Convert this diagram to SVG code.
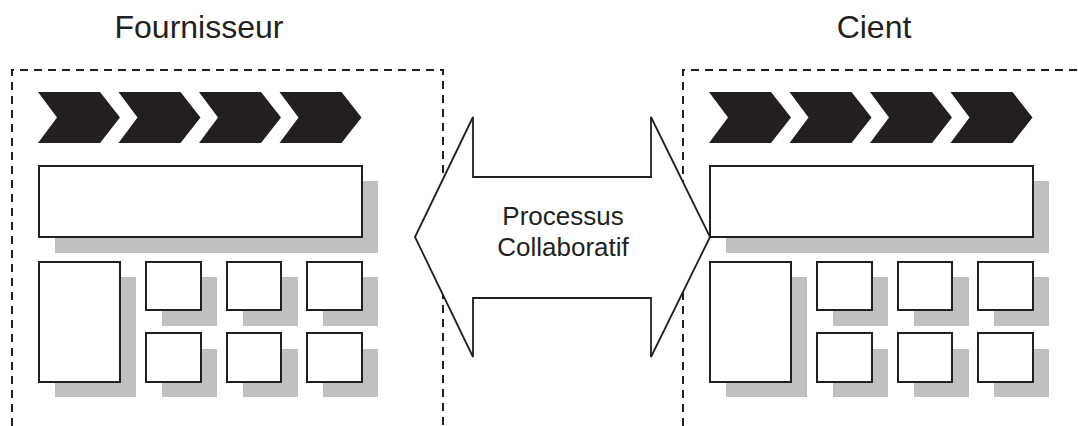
<svg xmlns="http://www.w3.org/2000/svg" width="1078" height="426" viewBox="0 0 1078 426">
<defs>
<style>
.dash{fill:none;stroke:#231f20;stroke-width:2;stroke-dasharray:8 6}
.chev{fill:#231f20}
.box{fill:#fff;stroke:#231f20;stroke-width:2}
.shadow{fill:#c0c0c0}
.title{font-family:"Liberation Sans",Arial,sans-serif;font-size:32px;fill:#231f20;text-anchor:middle}
.lbl{font-family:"Liberation Sans",Arial,sans-serif;font-size:26px;fill:#231f20;text-anchor:middle}
.arrow{fill:#fff;stroke:#231f20;stroke-width:1.8;stroke-linejoin:miter}
</style>
<polygon id="chevron" points="0,92 62,92 82,117.5 62,143 0,143 19,117.5"/>
<g id="panel">
<use href="#chevron" class="chev" x="38"/>
<use href="#chevron" class="chev" x="118.5"/>
<use href="#chevron" class="chev" x="199"/>
<use href="#chevron" class="chev" x="279.5"/>
<rect class="shadow" x="55" y="181" width="323" height="72"/>
<rect class="box" x="39" y="166" width="323" height="71"/>
<rect class="shadow" x="55" y="277" width="81" height="120"/>
<rect class="box" x="39" y="262" width="81" height="120"/>
<rect class="shadow" x="162" y="277" width="55" height="49"/>
<rect class="box" x="146" y="262" width="55" height="48"/>
<rect class="shadow" x="243" y="277" width="55" height="49"/>
<rect class="box" x="227" y="262" width="54" height="48"/>
<rect class="shadow" x="323" y="277" width="55" height="49"/>
<rect class="box" x="307" y="262" width="55" height="48"/>
<rect class="shadow" x="162" y="349" width="55" height="48"/>
<rect class="box" x="146" y="333" width="55" height="49"/>
<rect class="shadow" x="243" y="349" width="55" height="48"/>
<rect class="box" x="227" y="333" width="54" height="49"/>
<rect class="shadow" x="323" y="349" width="55" height="48"/>
<rect class="box" x="307" y="333" width="55" height="49"/>
</g>
</defs>
<g id="fournisseur">
<path class="dash" d="M12,426 V70 H443 V426"/>
<use href="#panel"/>
<text class="title" x="199" y="38">Fournisseur</text>
</g>
<g id="client">
<path class="dash" d="M683,426 V70 H1078"/>
<use href="#panel" x="671"/>
<text class="title" x="874" y="38">Cient</text>
</g>
<g id="connectors">
<g id="processus">
<polygon class="arrow" points="415,237 473,117 473,177 651,177 651,117 710,237 651,357 651,298 473,298 473,357"/>
<text class="lbl" x="563" y="225">Processus</text>
<text class="lbl" x="563" y="256">Collaboratif</text>
</g>
</g>
</svg>
